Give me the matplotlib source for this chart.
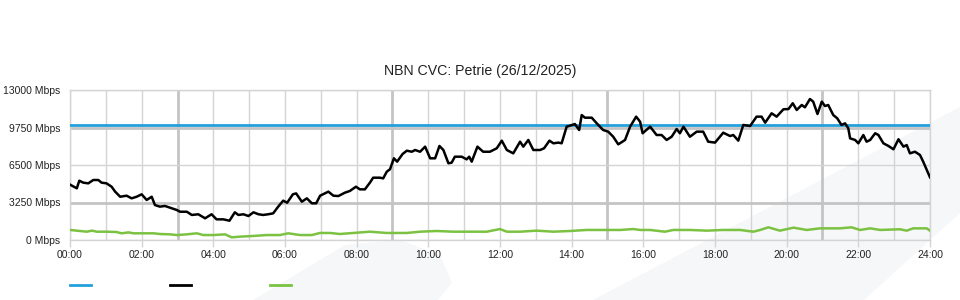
import matplotlib
matplotlib.use("Agg")
import matplotlib.pyplot as plt
from matplotlib.patches import Polygon
from matplotlib.lines import Line2D

plt.rcParams['font.family'] = ['Liberation Sans', 'DejaVu Sans']

# Series: hours since midnight, Mbps
capacity = 10000

used_h = [0.00, 0.19, 0.26, 0.37, 0.51, 0.65, 0.79, 0.88, 1.02, 1.16, 1.26, 1.40, 1.58, 1.72,
          1.86, 2.00, 2.14, 2.28, 2.37, 2.51, 2.65, 2.79, 2.98, 3.07, 3.26, 3.40, 3.58, 3.77,
          3.95, 4.09, 4.28, 4.45, 4.60, 4.70, 4.84, 4.98, 5.12, 5.26, 5.39, 5.53, 5.67, 5.81,
          5.95, 6.06, 6.22, 6.31, 6.47, 6.61, 6.75, 6.87, 6.98, 7.21, 7.35, 7.49, 7.67, 7.81,
          7.98, 8.09, 8.23, 8.37, 8.46, 8.65, 8.74, 8.84, 8.93, 9.04, 9.13, 9.28, 9.40, 9.54,
          9.63, 9.77, 9.91, 10.05, 10.19, 10.31, 10.42, 10.56, 10.65, 10.74, 10.93, 11.07, 11.14,
          11.21, 11.37, 11.53, 11.72, 11.91, 12.05, 12.19, 12.37, 12.56, 12.65, 12.79, 12.93,
          13.12, 13.23, 13.38, 13.49, 13.63, 13.72, 13.86, 14.09, 14.21, 14.28, 14.37, 14.56,
          14.70, 14.88, 15.02, 15.16, 15.30, 15.49, 15.63, 15.80, 15.91, 15.98, 16.19, 16.37,
          16.51, 16.65, 16.79, 16.93, 17.02, 17.12, 17.30, 17.49, 17.67, 17.81, 18.00, 18.23,
          18.42, 18.51, 18.65, 18.79, 18.98, 19.16, 19.30, 19.40, 19.58, 19.72, 19.91, 20.05,
          20.17, 20.28, 20.42, 20.51, 20.65, 20.74, 20.86, 20.98, 21.07, 21.16, 21.30, 21.41,
          21.53, 21.63, 21.72, 21.77, 21.91, 22.00, 22.14, 22.23, 22.33, 22.47, 22.56, 22.70,
          22.84, 22.98, 23.12, 23.26, 23.35, 23.44, 23.58, 23.72, 23.81, 23.91, 24.00]
used_mbps = [4800, 4480, 5140, 4970, 4910, 5200, 5200, 4970, 4910, 4620, 4190, 3750, 3840, 3610,
             3750, 3960, 3470, 3750, 3030, 2890, 2950, 2800, 2600, 2450, 2450, 2170, 2230, 1880,
             2230, 1790, 1790, 1670, 2400, 2170, 2230, 2080, 2400, 2230, 2170, 2230, 2310, 2890,
             3410, 3230, 3960, 4040, 3320, 3610, 3180, 3180, 3840, 4190, 3840, 3810, 4100, 4250,
             4620, 4390, 4390, 4970, 5400, 5400, 5340, 5920, 6130, 7080, 6790, 7450, 7740, 7650,
             7800, 7650, 8090, 7080, 7080, 8150, 7800, 6650, 6700, 7220, 7220, 6990, 7220,
             6790, 8090, 7650, 7650, 7950, 8610, 7800, 7510, 8520, 8090, 8670, 7800,
             7800, 7950, 8610, 8380, 8440, 8380, 9820, 10050, 9530, 10830, 10600, 10600,
             10110, 9530, 9390, 8950, 8290, 8670, 9820, 10690, 10250, 9250, 9820, 9100,
             9100, 8670, 8950, 9620, 9250, 9820, 8950, 9390, 9390, 8520, 8440, 9300,
             9010, 9100, 8610, 9970, 9880, 10690, 10690, 10170, 10980, 10690, 11330, 11350,
             11850, 11270, 11700, 11500, 12220, 11990, 10920, 11990, 11610, 11700, 10830, 10550,
             9970, 10110, 9680, 8810, 8670, 8380, 9100, 8520, 8670, 9250, 9100, 8380,
             8150, 7860, 8730, 8090, 8230, 7510, 7650, 7370, 6790, 6070, 5430]

up_h = [0.00, 0.28, 0.47, 0.61, 0.75, 1.02, 1.30, 1.44, 1.63, 1.77, 2.00, 2.33, 2.51, 2.79,
        2.98, 3.26, 3.54, 3.72, 4.00, 4.33, 4.51, 4.74, 5.12, 5.49, 5.86, 6.09, 6.42, 6.75,
        6.98, 7.26, 7.53, 7.91, 8.37, 8.84, 9.40, 9.77, 10.23, 10.70, 11.16, 11.63, 12.00,
        12.19, 12.56, 13.02, 13.49, 13.95, 14.42, 14.88, 15.35, 15.72, 15.91, 16.19, 16.60,
        16.84, 17.30, 17.77, 18.23, 18.70, 19.07, 19.26, 19.49, 19.81, 20.19, 20.56, 20.93,
        21.49, 21.81, 22.05, 22.33, 22.61, 23.16, 23.35, 23.53, 23.91, 24.00]
up_mbps = [870, 780, 720, 810, 720, 720, 690, 580, 660, 580, 580, 580, 520, 490,
           430, 490, 580, 430, 430, 490, 230, 290, 350, 430, 430, 580, 430, 430,
           610, 610, 520, 610, 720, 610, 610, 720, 780, 720, 720, 720, 950,
           720, 720, 810, 720, 780, 870, 870, 870, 950, 870, 870, 720,
           870, 870, 810, 870, 870, 720, 870, 1100, 810, 1070, 870, 1010,
           1010, 1100, 870, 1010, 870, 930, 810, 1010, 1010, 810]

y_ticks = [0, 3250, 6500, 9750, 13000]
x_ticks = list(range(0, 25, 2))
x_labels = [f"{h:02d}:00" for h in x_ticks]

fig = plt.figure(figsize=(9.6, 3.0), dpi=100)

# decorative background shapes
bg = '#f6f7f9'
shape1 = [(253, 300), (345, 245), (400, 240), (440, 255), (452, 283), (438, 300)]
shape2 = [(593, 300), (960, 107), (960, 213), (864, 300)]
for pts in (shape1, shape2):
    fig.patches.append(Polygon([(x / 960, 1 - y / 300) for x, y in pts], closed=True,
                               transform=fig.transFigure, facecolor=bg, edgecolor='none',
                               zorder=-5))

ax = fig.add_axes([70 / 960, 0.2, 860 / 960, 0.5])
ax.set_zorder(2)
ax.set_facecolor('none')

# grid
for h in range(25):
    thick = h in (3, 9, 15, 21)
    ax.axvline(h, color='#c4c4c4' if thick else '#d4d4d4', lw=2.0 if thick else 1.0, zorder=1)
for v in y_ticks:
    thick = v in (3250, 9750)
    ax.axhline(v, color='#c4c4c4' if thick else '#d4d4d4', lw=2.0 if thick else 1.0, zorder=1)

ax.axhline(capacity, color='#22a0dc', lw=2.0, zorder=3)
ax.plot(up_h, up_mbps, color='#7cc242', lw=1.8, zorder=4)
ax.plot(used_h, used_mbps, color='black', lw=1.8, zorder=5)

ax.set_xlim(0, 24)
ax.set_ylim(0, 13000)
ax.set_xticks(x_ticks)
ax.set_xticklabels(x_labels)
ax.set_yticks(y_ticks)
ax.set_yticklabels([f"{v} Mbps" for v in y_ticks])
ax.tick_params(axis='x', length=5, width=1, color='#d4d4d4', pad=2, labelsize=7.5, labelcolor='#222222')
ax.tick_params(axis='y', length=0, pad=7, labelsize=7.5, labelcolor='#222222')
for s in ax.spines.values():
    s.set_color('#d4d4d4')
    s.set_linewidth(1.0)

fig.text(0.5, 1 - 71 / 300, 'NBN CVC: Petrie (26/12/2025)', ha='center', va='center',
         fontsize=10.2, color='#222222')

# legend swatches (no text)
for x0, c in ((70, '#22a0dc'), (170, 'black'), (270, '#7cc242')):
    fig.add_artist(Line2D([x0 / 960, (x0 + 21) / 960], [1 - 285 / 300] * 2,
                          transform=fig.transFigure, color=c, lw=2.0))

fig.savefig('out.png', dpi=100)
